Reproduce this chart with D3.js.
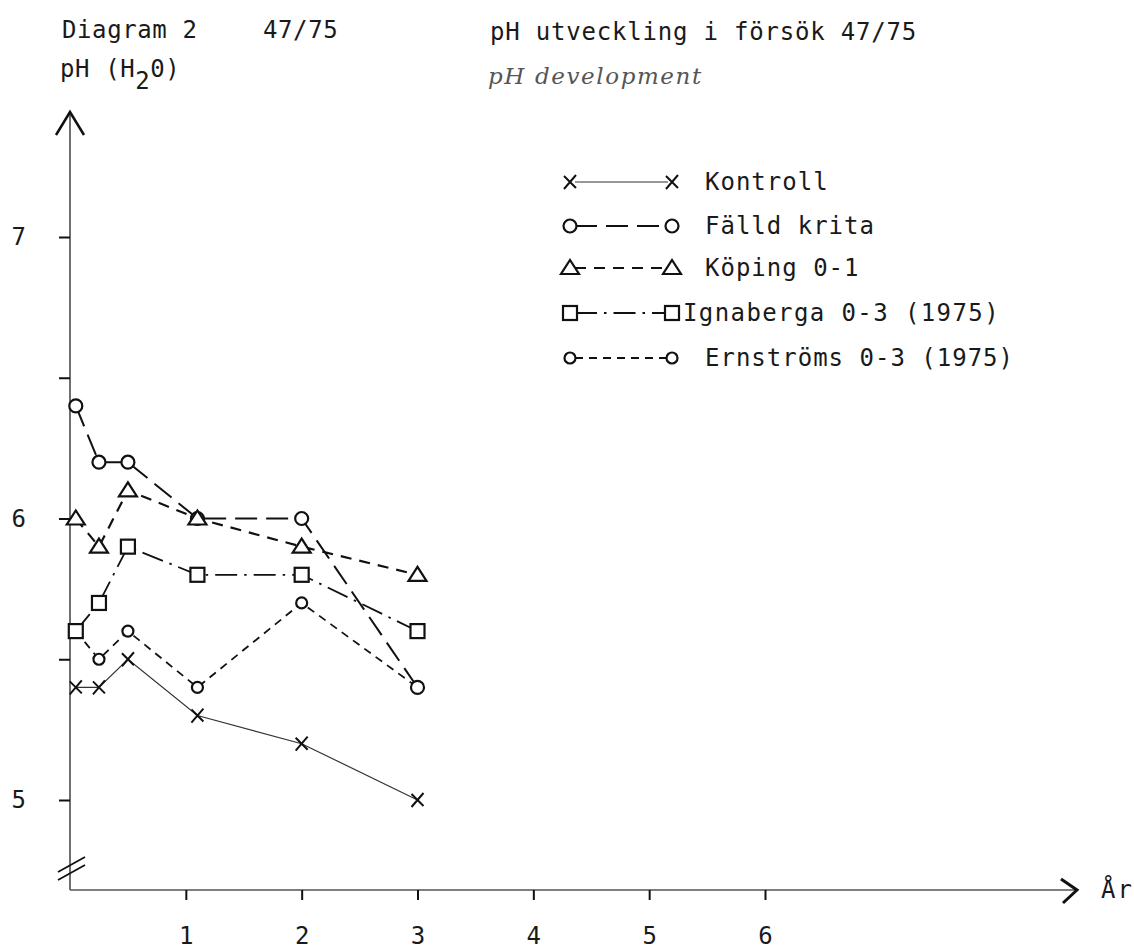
<!DOCTYPE html>
<html>
<head>
<meta charset="utf-8">
<script src="https://cdn.jsdelivr.net/npm/d3@7"></script>
<style>
  body { margin: 0; background: #fff; }
  text { font-family: "DejaVu Sans Mono", monospace; fill: #1a1a1a; }
</style>
</head>
<body>
<script>
// years after start (x) and pH values per treatment
var years = [0.05, 0.25, 0.5, 1.1, 2, 3];
var kontroll   = [5.4, 5.4, 5.5, 5.3, 5.2, 5.0];
var falldKrita = [6.4, 6.2, 6.2, 6.0, 6.0, 5.4];
var koping     = [6.0, 5.9, 6.1, 6.0, 5.9, 5.8];
var ignaberga  = [5.6, 5.7, 5.9, 5.8, 5.8, 5.6];
var ernstroms  = [5.6, 5.5, 5.6, 5.4, 5.7, 5.4];

var seriesNames = ["Kontroll", "Fälld krita", "Köping 0-1", "Ignaberga 0-3 (1975)", "Ernströms 0-3 (1975)"];
var xTicks = [1, 2, 3, 4, 5, 6];
var yTicks = [5, 5.5, 6, 6.5, 7];

var width = 1134, height = 950;
var svg = d3.select("body").append("svg").attr("width", width).attr("height", height);

var x = d3.scaleLinear().domain([0, 6]).range([70, 765]);
var y = d3.scaleLinear().domain([5, 7]).range([800, 237]);
var axisY = 890;

var series = [
  { name: seriesNames[0], values: kontroll,   marker: "cross",  dash: null,         sw: 1.2, col: "#333" },
  { name: seriesNames[1], values: falldKrita, marker: "circle", dash: "22,9",       sw: 2,   col: "#111" },
  { name: seriesNames[2], values: koping,     marker: "tri",    dash: "11,8",       sw: 2.2, col: "#111" },
  { name: seriesNames[3], values: ignaberga,  marker: "square", dash: "22,7,2.5,7", sw: 1.8, col: "#111" },
  { name: seriesNames[4], values: ernstroms,  marker: "small",  dash: "8,6",        sw: 1.8, col: "#111" }
];

// titles
svg.append("text").attr("x", 62).attr("y", 38).attr("font-size", 24).attr("letter-spacing", 0.6).text("Diagram 2");
svg.append("text").attr("x", 263).attr("y", 38).attr("font-size", 24).attr("letter-spacing", 0.6).text("47/75");
svg.append("text").attr("x", 490).attr("y", 40).attr("font-size", 24).attr("letter-spacing", 0.8).text("pH utveckling i försök 47/75");
var yl = svg.append("text").attr("x", 60).attr("y", 77).attr("font-size", 24).attr("letter-spacing", 0.6);
yl.append("tspan").text("pH (H");
yl.append("tspan").attr("dy", 12).text("2");
yl.append("tspan").attr("dy", -12).text("0)");
svg.append("text").attr("x", 488).attr("y", 84).attr("font-size", 23).attr("letter-spacing", 1.6)
  .style("font-family", "'DejaVu Serif', serif").style("font-style", "italic").style("fill", "#555")
  .text("pH development");

// axes lines
svg.append("line").attr("x1", x(0)).attr("x2", x(0)).attr("y1", axisY).attr("y2", 112)
  .attr("stroke", "#222").attr("stroke-width", 1.3);
svg.append("path").attr("d", "M" + (x(0) - 14) + ",135L" + x(0) + ",112L" + (x(0) + 14) + ",135")
  .attr("fill", "none").attr("stroke", "#111").attr("stroke-width", 2.5);
svg.append("line").attr("x1", x(0)).attr("x2", 1077).attr("y1", axisY).attr("y2", axisY)
  .attr("stroke", "#555").attr("stroke-width", 1.5);
svg.append("path").attr("d", "M1061,879L1077," + axisY + "L1063,903")
  .attr("fill", "none").attr("stroke", "#111").attr("stroke-width", 3);
svg.append("text").attr("x", 1101).attr("y", 898).attr("font-size", 24).attr("letter-spacing", 2).text("År");

// axis break
[0, 8].forEach(function (o) {
  svg.append("line").attr("x1", 58).attr("y1", 872 + o).attr("x2", 85).attr("y2", 857 + o)
    .attr("stroke", "#111").attr("stroke-width", 1.8);
});

// y ticks
var yAxis = d3.axisLeft(y).tickValues(yTicks).tickSize(11).tickPadding(33)
  .tickFormat(function (d) { return d % 1 === 0 ? d3.format("d")(d) : ""; });
var gy = svg.append("g").attr("transform", "translate(" + x(0) + ",0)").call(yAxis);
gy.select(".domain").remove();
gy.selectAll("line").attr("stroke", "#111").attr("stroke-width", 2);
gy.selectAll("text").attr("font-size", 24).style("font-family", "'DejaVu Sans Mono', monospace").attr("fill", "#222");

// x ticks
var xAxis = d3.axisBottom(x).tickValues(xTicks).tickSize(10).tickPadding(27).tickFormat(d3.format("d"));
var gx = svg.append("g").attr("transform", "translate(0," + axisY + ")").call(xAxis);
gx.select(".domain").remove();
gx.selectAll("line").attr("stroke", "#111").attr("stroke-width", 2);
gx.selectAll("text").attr("font-size", 24).style("font-family", "'DejaVu Sans Mono', monospace").attr("fill", "#222");

function drawMarker(g, type, cx, cy, col) {
  if (type === "cross") {
    g.append("path").attr("d", "M" + (cx - 6) + "," + (cy - 6) + "L" + (cx + 6) + "," + (cy + 6) +
      "M" + (cx + 6) + "," + (cy - 7) + "L" + (cx - 6) + "," + (cy + 7))
      .attr("stroke", "#111").attr("stroke-width", 2).attr("fill", "none");
  } else if (type === "circle" || type === "small") {
    g.append("circle").attr("cx", cx).attr("cy", cy).attr("r", type === "circle" ? 6.5 : 5.5)
      .attr("fill", "#fff").attr("stroke", col).attr("stroke-width", 2.2);
  } else if (type === "tri") {
    g.append("path").attr("d", "M" + (cx - 9) + "," + (cy + 6) + "L" + (cx + 9) + "," + (cy + 6) + "L" + cx + "," + (cy - 8) + "Z")
      .attr("fill", "#fff").attr("stroke", col).attr("stroke-width", 2.2);
  } else if (type === "square") {
    g.append("rect").attr("x", cx - 7).attr("y", cy - 7).attr("width", 14).attr("height", 14)
      .attr("fill", "#fff").attr("stroke", col).attr("stroke-width", 2.2);
  }
}

var line = d3.line().x(function (d) { return x(d[0]); }).y(function (d) { return y(d[1]); });

var plot = svg.append("g");
series.forEach(function (s) {
  var pts = years.map(function (yr, i) { return [yr, s.values[i]]; });
  plot.append("path").datum(pts).attr("d", line).attr("fill", "none")
    .attr("stroke", s.col).attr("stroke-width", s.sw).attr("stroke-dasharray", s.dash);
});
// Ernströms markers first so the squares sit on top where they meet
[4, 0, 1, 2, 3].forEach(function (k) {
  var s = series[k];
  years.forEach(function (yr, i) { drawMarker(plot, s.marker, x(yr), y(s.values[i]), s.col); });
});

// legend
var legY = [182, 226, 268, 313, 358];
var leg = svg.append("g");
series.forEach(function (s, i) {
  var ly = legY[i];
  leg.append("line").attr("x1", 575).attr("x2", 668).attr("y1", ly).attr("y2", ly)
    .attr("stroke", s.col).attr("stroke-width", s.sw).attr("stroke-dasharray", s.dash);
  drawMarker(leg, s.marker, 570, ly, s.col);
  drawMarker(leg, s.marker, 672, ly, s.col);
  leg.append("text").attr("x", i === 3 ? 683 : 705).attr("y", ly + 8).attr("font-size", 24)
    .attr("letter-spacing", i === 3 ? 1.4 : 1).text(s.name);
});
</script>
</body>
</html>
